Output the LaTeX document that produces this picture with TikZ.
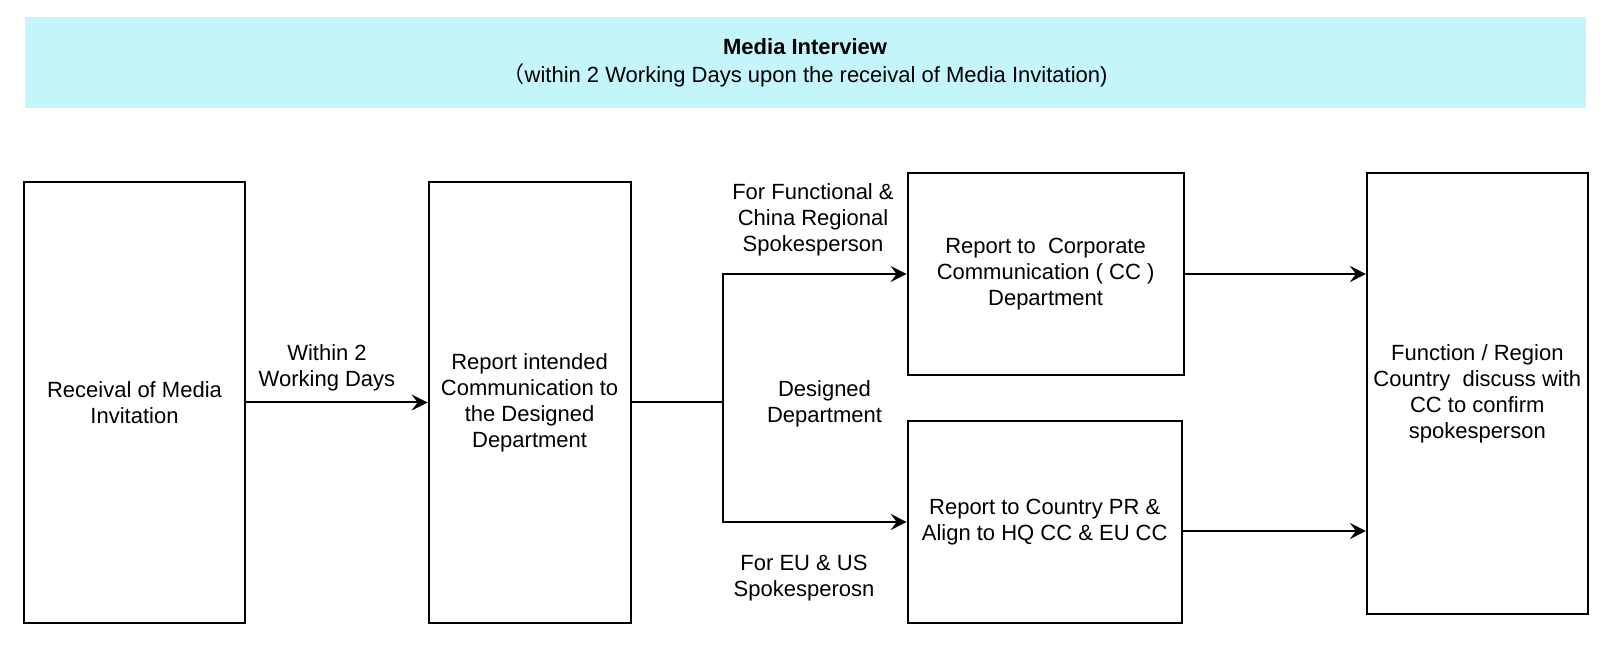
\documentclass[tikz,border=0pt]{standalone}
\usepackage{fontspec}
\setmainfont{Liberation Sans}
\newfontfamily\cjkfont{Noto Sans CJK SC}
\usetikzlibrary{arrows.meta}
\definecolor{bandcyan}{RGB}{196,245,251}
\begin{document}
\begin{tikzpicture}[x=0.5pt,y=-0.5pt,
  font=\fontsize{11pt}{13pt}\selectfont,
  box/.style={draw, line width=1pt, align=center, inner sep=0pt},
  arr/.style={line width=1pt, -{Stealth[length=8pt,width=8pt,inset=3pt]}},
  plain/.style={line width=1pt},
  lbl/.style={align=center, inner sep=0pt}]
\useasboundingbox (0,0) rectangle (1608,646);
\fill[white] (0,0) rectangle (1608,646);
% header band
\node[fill=bandcyan, minimum width=780.5pt, minimum height=45.75pt, inner sep=0pt, align=center] (hdr) at (805.1,62.75)
  {\textbf{Media Interview}\\[1pt]{\cjkfont （}within 2 Working Days upon the receival of Media Invitation)};
% boxes
\node[box, minimum width=110.5pt, minimum height=220.5pt] (b1) at (134.5,402.5) {Receival of Media\\Invitation};
\node[box, minimum width=101pt, minimum height=220.5pt] (b2) at (529.6,402.5) {Report intended\\Communication to\\the Designed\\Department};
\node[box, minimum width=138pt, minimum height=101pt] (b3) at (1045.6,274) {Report to\ \ Corporate\\Communication ( CC )\\Department};
\node[box, minimum width=137pt, minimum height=101pt] (b4) at (1044.7,522) {Report to Country PR \&\\Align to HQ CC \& EU CC};
\node[box, minimum width=110.35pt, minimum height=220.35pt] (b5) at (1477.3,393.6) {Function / Region\\Country\ \ discuss with\\CC to confirm\\spokesperson};
% labels
\node[lbl] (l1) at (327,368) {Within 2\\Working Days};
\node[lbl] (l2) at (813,220) {For Functional \&\\China Regional\\Spokesperson};
\node[lbl] (l3) at (824.5,404) {Designed\\Department};
\node[lbl] (l4) at (804,578) {For EU \& US\\Spokesperosn};
% connectors
\coordinate (j) at (722.5,402.5);
\coordinate (o4) at (1181.7,531);
\draw[arr] (b1.east) -- (b2.west);
\draw[plain] (b2.east) -- (j);
\draw[arr] (j) |- (b3.west);
\draw[arr] (j) |- (b4.west);
\draw[arr] (b3.east) -- (b5.west |- b3.east);
\draw[arr] (o4) -- (b5.west |- o4);
\end{tikzpicture}
\end{document}
